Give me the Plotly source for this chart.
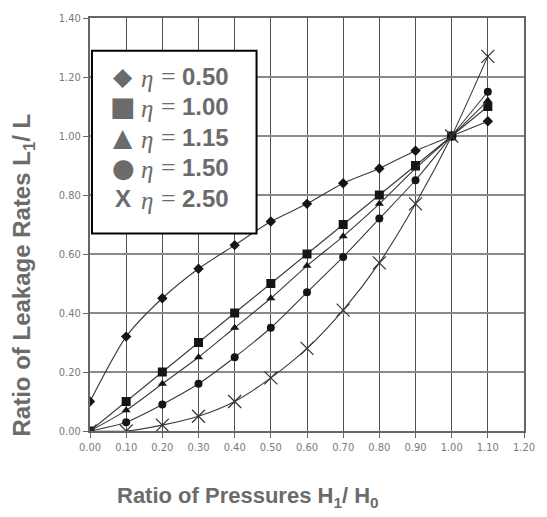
import plotly.graph_objects as go

pressure_ratio = [0.0, 0.1, 0.2, 0.3, 0.4, 0.5, 0.6, 0.7, 0.8, 0.9, 1.0, 1.1]
eta_labels = ["0.50", "1.00", "1.15", "1.50", "2.50"]
leak_eta_050 = [0.10, 0.32, 0.45, 0.55, 0.63, 0.71, 0.77, 0.84, 0.89, 0.95, 1.00, 1.05]
leak_eta_100 = [0.00, 0.10, 0.20, 0.30, 0.40, 0.50, 0.60, 0.70, 0.80, 0.90, 1.00, 1.10]
leak_eta_115 = [0.00, 0.07, 0.16, 0.25, 0.35, 0.45, 0.56, 0.66, 0.77, 0.89, 1.00, 1.12]
leak_eta_150 = [0.00, 0.03, 0.09, 0.16, 0.25, 0.35, 0.47, 0.59, 0.72, 0.85, 1.00, 1.15]
leak_eta_250 = [0.00, 0.00, 0.02, 0.05, 0.10, 0.18, 0.28, 0.41, 0.57, 0.77, 1.00, 1.27]
x_ticks = [0.0, 0.1, 0.2, 0.3, 0.4, 0.5, 0.6, 0.7, 0.8, 0.9, 1.0, 1.1, 1.2]
y_ticks = [0.0, 0.2, 0.4, 0.6, 0.8, 1.0, 1.2, 1.4]

series = [
    (leak_eta_050, "diamond", 8, "◆"),
    (leak_eta_100, "square", 9, "■"),
    (leak_eta_115, "triangle-up", 8, "▲"),
    (leak_eta_150, "circle", 8, "●"),
    (leak_eta_250, "x-thin", 13, "X"),
]

fig = go.Figure()
for (vals, sym, size, _), lab in zip(series, eta_labels):
    marker = dict(symbol=sym, size=size, color="#151515")
    if sym == "x-thin":
        marker["line"] = dict(width=1.2, color="#333333")
    fig.add_trace(go.Scatter(
        x=pressure_ratio, y=vals, mode="lines+markers",
        line=dict(color="#3a3a3a", width=1.1, shape="spline", smoothing=0.7),
        marker=marker, name="η =" + lab, showlegend=False,
    ))

tick_font = dict(family="DejaVu Sans Condensed, Liberation Sans Narrow, Arial", size=11, color="#7a7a7a")
fig.update_xaxes(
    range=[0, 1.2], tickvals=x_ticks, tickformat=".2f", tickfont=tick_font,
    showgrid=True, gridcolor="#505050", gridwidth=1.3,
    showline=True, linecolor="#666666", linewidth=2, mirror=True,
    ticks="outside", ticklen=5, tickcolor="#666666", zeroline=False,
)
fig.update_yaxes(
    range=[0, 1.4], tickvals=y_ticks, tickformat=".2f", tickfont=tick_font,
    showgrid=True, gridcolor="#8a8a8a", gridwidth=2,
    showline=True, linecolor="#666666", linewidth=2, mirror=True,
    ticks="outside", ticklen=5, tickcolor="#666666", zeroline=False,
)

L, R, T, B = 90, 14, 15, 86
W, H = 547, 517
pw, ph = W - L - R, H - T - B

def px_x(p):
    return (p - L) / pw

def px_y(p):
    return (H - B - p) / ph

# legend box
fig.add_shape(type="rect", xref="paper", yref="paper",
              x0=px_x(92), x1=px_x(260), y0=px_y(232), y1=px_y(48),
              line=dict(color="#000000", width=2), fillcolor="#ffffff", layer="above")

title_color = "#6b6b6b"
row_y = [74, 104, 135, 166, 197]
glyph_sizes = {"◆": 25, "■": 27, "▲": 25, "●": 26}

def ann(x, y, text, size, family, weight="bold", anchor="left"):
    fig.add_annotation(xref="paper", yref="paper", x=px_x(x), y=px_y(y),
                       xanchor=anchor, yanchor="middle", showarrow=False, text=text,
                       font=dict(family=family, size=size, color=title_color, weight=weight))

for (vals, sym, size, glyph), lab, yy in zip(series, eta_labels, row_y):
    if glyph == "X":
        ann(124, yy, glyph, 24, "Arial", anchor="center")
    else:
        ann(124, yy, glyph, glyph_sizes[glyph], "DejaVu Sans", weight="normal", anchor="center")
    ann(140, yy + 2, "<i>η</i>", 25, "Liberation Serif", weight="normal")
    ann(160, yy, "=", 26, "Liberation Serif", weight="normal")
    ann(182, yy, lab, 24, "Arial")

ann(251, 497, "Ratio of Pressures H<sub>1</sub>/ H<sub>0</sub>", 22, "Arial", anchor="center")
fig.add_annotation(xref="paper", yref="paper", x=px_x(22), y=px_y(274),
                   xanchor="center", yanchor="middle", showarrow=False, textangle=-90,
                   text="Ratio of Leakage Rates L<sub>1</sub>/ L",
                   font=dict(family="Arial", size=24, color=title_color, weight="bold"))

fig.update_layout(
    width=W, height=H, margin=dict(l=L, r=R, t=T, b=B),
    paper_bgcolor="#ffffff", plot_bgcolor="#ffffff", showlegend=False,
)
fig.write_html("out.html")
